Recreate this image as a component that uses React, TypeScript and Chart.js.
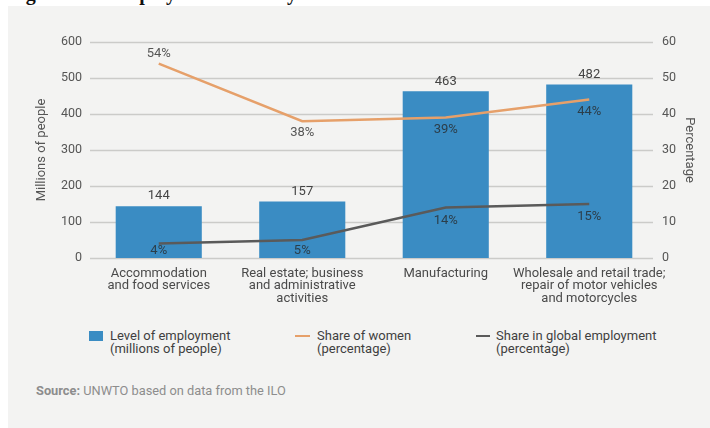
import React, { useEffect, useRef } from 'react';
import { Chart, registerables } from 'chart.js';

Chart.register(...registerables);

const categories: string[][] = [
  ['Accommodation', 'and food services'],
  ['Real estate; business', 'and administrative', 'activities'],
  ['Manufacturing'],
  ['Wholesale and retail trade;', 'repair of motor vehicles', 'and motorcycles'],
];
const employment = [144, 157, 463, 482];
const shareWomen = [54, 38, 39, 44];
const shareGlobal = [4, 5, 14, 15];
const leftMax = 600;
const leftStep = 100;
const rightMax = 60;
const rightStep = 10;

const FONT = 'Roboto';
const W = 710;
const H = 320;

const gridPlugin = {
  id: 'customGrid',
  beforeDatasetsDraw(chart: any) {
    const { ctx, chartArea, scales } = chart;
    const y = scales.y;
    ctx.save();
    ctx.strokeStyle = '#cbcbc9';
    ctx.lineWidth = 1.3;
    y.ticks.forEach((t: any) => {
      const py = Math.round(y.getPixelForValue(t.value)) + 0.5;
      ctx.beginPath();
      ctx.moveTo(chartArea.left + 3, py);
      ctx.lineTo(chartArea.right - 8, py);
      ctx.stroke();
    });
    ctx.restore();
  },
};

const labelPlugin = {
  id: 'valueLabels',
  afterDatasetsDraw(chart: any) {
    const { ctx, chartArea } = chart;
    ctx.save();
    ctx.font = `13px ${FONT}`;
    ctx.textAlign = 'center';
    ctx.textBaseline = 'middle';
    chart.data.datasets.forEach((ds: any, di: number) => {
      const meta = chart.getDatasetMeta(di);
      meta.data.forEach((el: any, i: number) => {
        const v = ds.data[i];
        let ty = el.y;
        let txt = String(v);
        if (ds.type === 'bar') {
          ty = el.y - 10;
          ctx.fillStyle = '#444';
        } else if (ds.key === 'women') {
          txt = v + '%';
          ty = i === 0 ? el.y - 10 : el.y + 12;
          ctx.fillStyle = 'rgba(40,40,40,0.78)';
        } else {
          txt = v + '%';
          ty = Math.min(el.y + 13, chartArea.bottom - 7);
          ctx.fillStyle = 'rgba(40,40,40,0.78)';
        }
        ctx.fillText(txt, el.x, ty);
      });
    });
    ctx.restore();
  },
};

export default function App() {
  const ref = useRef<HTMLCanvasElement | null>(null);

  useEffect(() => {
    if (!ref.current) return;
    const chart = new Chart(ref.current, {
      type: 'bar',
      data: {
        labels: categories as any,
        datasets: [
          {
            type: 'bar',
            label: 'Level of employment (millions of people)',
            data: employment,
            backgroundColor: '#3a8cc3',
            yAxisID: 'y',
            barPercentage: 0.75,
            categoryPercentage: 0.8,
            order: 3,
          } as any,
          {
            type: 'line',
            key: 'women',
            label: 'Share of women (percentage)',
            data: shareWomen,
            borderColor: '#e6a06a',
            borderWidth: 2.5,
            pointRadius: 0,
            tension: 0,
            yAxisID: 'y1',
            order: 1,
          } as any,
          {
            type: 'line',
            key: 'global',
            label: 'Share in global employment (percentage)',
            data: shareGlobal,
            borderColor: '#5a5a5a',
            borderWidth: 2.5,
            pointRadius: 0,
            tension: 0,
            yAxisID: 'y1',
            order: 2,
          } as any,
        ],
      },
      options: {
        responsive: false,
        animation: false,
        devicePixelRatio: 1,
        layout: { padding: { top: 42, left: 0, right: 0, bottom: 0 } },
        plugins: {
          legend: { display: false },
          tooltip: { enabled: false },
        },
        scales: {
          x: {
            offset: true,
            grid: { display: false, drawTicks: false },
            border: { display: false },
            ticks: {
              color: '#4a4a4a',
              font: { family: FONT, size: 13, lineHeight: 0.98 },
              padding: 9,
              maxRotation: 0,
              autoSkip: false,
            },
            afterFit: (s: any) => {
              s.height = H - 258;
            },
          },
          y: {
            position: 'left',
            min: 0,
            max: leftMax,
            grid: { display: false, drawTicks: false },
            border: { display: false },
            ticks: {
              stepSize: leftStep,
              color: '#555',
              font: { family: FONT, size: 12.5 },
              padding: 5,
            },
            title: {
              display: true,
              text: 'Millions of people',
              color: '#555',
              font: { family: FONT, size: 13, lineHeight: 1.2 },
              padding: { top: 34, bottom: 0 },
            },
            afterFit: (s: any) => {
              s.width = 87;
            },
          },
          y1: {
            position: 'right',
            min: 0,
            max: rightMax,
            grid: { display: false, drawTicks: false },
            border: { display: false },
            ticks: {
              stepSize: rightStep,
              color: '#555',
              font: { family: FONT, size: 12.5 },
              padding: 1,
            },
            title: {
              display: true,
              text: 'Percentage',
              color: '#555',
              font: { family: FONT, size: 13, lineHeight: 1.2 },
              padding: { top: 13, bottom: 0 },
            },
            afterFit: (s: any) => {
              s.width = 49;
            },
          },
        },
      },
      plugins: [gridPlugin, labelPlugin],
    } as any);
    return () => chart.destroy();
  }, []);

  const legendText: React.CSSProperties = {
    position: 'absolute',
    fontFamily: FONT,
    fontSize: 13,
    lineHeight: '13px',
    color: '#3f3f3f',
    whiteSpace: 'nowrap',
  };

  return (
    <div
      style={{
        position: 'fixed',
        left: 0,
        top: 0,
        width: W,
        height: 428,
        background: '#ffffff',
        overflow: 'hidden',
      }}
    >
      <div
        style={{
          position: 'absolute',
          left: 0,
          top: 0,
          width: W,
          height: 6,
          overflow: 'hidden',
        }}
      >
        <div
          style={{
            position: 'absolute',
            left: 8,
            top: -17.5,
            fontFamily: '"Liberation Serif", serif',
            fontWeight: 'bold',
            fontSize: 20,
            lineHeight: '20px',
            color: '#111',
            whiteSpace: 'nowrap',
          }}
        >
          Figure 3.12 Employment levels by sector
        </div>
      </div>
      <div
        style={{
          position: 'absolute',
          left: 8,
          top: 6,
          right: 0,
          bottom: 0,
          background: '#f3f3f2',
        }}
      />
      <canvas
        ref={ref}
        width={W}
        height={H}
        style={{ position: 'absolute', left: 0, top: 0, width: W, height: H }}
      />
      <div
        style={{
          position: 'absolute',
          left: 89,
          top: 331,
          width: 14,
          height: 10,
          background: '#3a8cc3',
        }}
      />
      <div style={{ ...legendText, left: 110, top: 329 }}>
        Level of employment
        <br />
        (millions of people)
      </div>
      <div
        style={{
          position: 'absolute',
          left: 295,
          top: 335,
          width: 15,
          height: 2,
          background: '#e6a06a',
        }}
      />
      <div style={{ ...legendText, left: 317, top: 329 }}>
        Share of women
        <br />
        (percentage)
      </div>
      <div
        style={{
          position: 'absolute',
          left: 476,
          top: 335,
          width: 14,
          height: 2,
          background: '#5a5a5a',
        }}
      />
      <div style={{ ...legendText, left: 496, top: 329 }}>
        Share in global employment
        <br />
        (percentage)
      </div>
      <div
        style={{
          position: 'absolute',
          left: 36,
          top: 383,
          fontFamily: FONT,
          fontSize: 12.8,
          lineHeight: '16px',
          color: '#8d8d8d',
          whiteSpace: 'nowrap',
        }}
      >
        <span style={{ fontWeight: 'bold' }}>Source:</span> UNWTO based on data from the ILO
      </div>
    </div>
  );
}
